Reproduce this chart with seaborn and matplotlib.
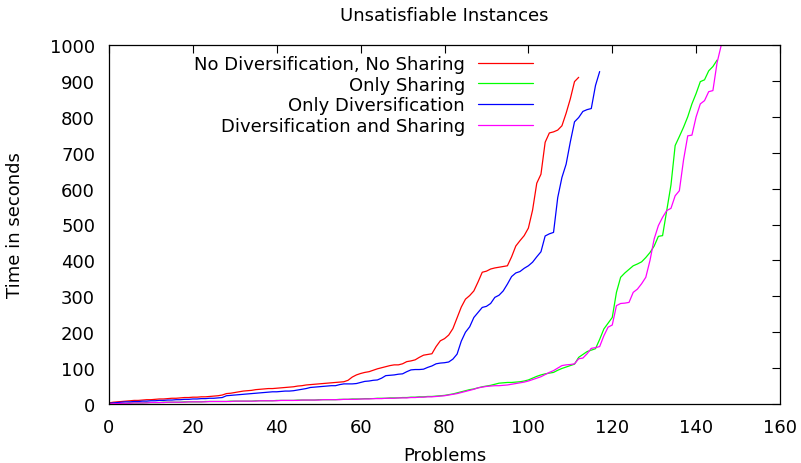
import pandas as pd
import matplotlib
matplotlib.use("Agg")
import matplotlib.pyplot as plt
import seaborn as sns

# runtimes (seconds) per solved problem, sorted
no_div_no_share = [3, 5, 6, 7, 8, 9, 10, 10, 11, 12, 12, 13, 14, 14, 15, 16, 16, 17, 18, 18,
                   19, 19, 20, 20, 21, 22, 23, 25, 29, 30, 32, 34, 36, 37, 38, 40, 41, 42, 43, 43,
                   44, 45, 46, 47, 48, 50, 51, 53, 54, 55, 56, 57, 58, 59, 60, 61, 62, 66, 75, 81,
                   85, 88, 90, 94, 98, 101, 104, 107, 109, 109, 112, 118, 120, 123, 130, 136, 138, 140, 160, 176,
                   182, 192, 210, 240, 270, 292, 302, 315, 340, 367, 370, 376, 379, 381, 383, 385, 410, 440, 455, 469,
                   490, 540, 615, 640, 729, 755, 758, 763, 775, 810, 850, 898, 910]

only_sharing = [1, 1, 2, 2, 2, 3, 3, 3, 3, 4, 4, 4, 4, 5, 5, 5, 5, 5, 6, 6,
                6, 6, 6, 7, 7, 7, 7, 7, 7, 8, 8, 8, 8, 8, 8, 9, 9, 9, 9, 9,
                10, 10, 10, 10, 10, 11, 11, 11, 11, 11, 12, 12, 12, 12, 12, 13, 13, 13, 14, 14,
                14, 15, 15, 15, 16, 16, 16, 17, 17, 17, 18, 18, 19, 19, 20, 20, 21, 21, 22, 23,
                24, 26, 28, 31, 34, 37, 40, 42, 45, 48, 50, 52, 55, 58, 59, 60, 60, 61, 62, 64,
                67, 72, 77, 81, 84, 86, 88, 94, 99, 103, 107, 111, 130, 138, 146, 150, 154, 180, 209, 225,
                241, 311, 353, 365, 375, 385, 390, 396, 408, 422, 440, 467, 469, 540, 610, 720, 745, 771, 800, 836,
                865, 898, 903, 928, 940, 958]

only_div = [2, 3, 4, 5, 6, 6, 7, 7, 8, 8, 9, 9, 10, 10, 11, 11, 12, 12, 13, 13,
            14, 14, 15, 15, 16, 16, 17, 18, 23, 24, 25, 26, 27, 28, 29, 30, 31, 32, 33, 34,
            34, 35, 36, 36, 37, 39, 41, 43, 46, 47, 48, 49, 50, 51, 51, 54, 56, 56, 56, 57,
            60, 63, 64, 66, 67, 72, 79, 80, 81, 83, 84, 90, 95, 96, 96, 97, 102, 106, 112, 114,
            115, 117, 125, 139, 175, 200, 215, 241, 255, 269, 272, 280, 297, 303, 315, 334, 355, 365, 369, 378,
            385, 395, 410, 424, 468, 474, 478, 575, 631, 668, 730, 786, 798, 815, 820, 823, 887, 926]

div_and_share = [0, 1, 1, 2, 2, 2, 3, 3, 3, 3, 4, 4, 4, 4, 5, 5, 5, 5, 5, 6,
                 6, 6, 6, 6, 7, 7, 7, 7, 7, 7, 8, 8, 8, 8, 8, 8, 9, 9, 9, 9,
                 9, 10, 10, 10, 10, 10, 11, 11, 11, 11, 11, 12, 12, 12, 12, 12, 13, 13, 13, 13,
                 14, 14, 14, 15, 15, 15, 16, 16, 16, 17, 17, 17, 18, 18, 19, 19, 20, 20, 21, 22,
                 23, 25, 27, 29, 32, 35, 38, 41, 45, 47, 49, 50, 51, 51, 52, 53, 55, 57, 59, 61,
                 64, 68, 72, 76, 82, 88, 93, 100, 107, 109, 110, 112, 126, 128, 140, 155, 157, 160, 190, 214,
                 220, 274, 280, 281, 283, 311, 320, 335, 353, 400, 460, 497, 520, 539, 545, 580, 594, 680, 747, 749,
                 800, 836, 845, 870, 873, 951, 1000]

series_names = ["No Diversification, No Sharing", "Only Sharing",
                "Only Diversification", "Diversification and Sharing"]
series_values = [no_div_no_share, only_sharing, only_div, div_and_share]
series_colors = ["#ff0000", "#00ff00", "#0000ff", "#ff00ff"]

frames = []
for name, vals in zip(series_names, series_values):
    frames.append(pd.DataFrame({"problem": range(len(vals)), "time": vals, "config": name}))
plot_df = pd.concat(frames, ignore_index=True)

sns.set_style("white")
plt.rcParams["font.family"] = ["DejaVu Sans"]
plt.rcParams["text.color"] = "black"
plt.rcParams["axes.labelcolor"] = "black"

fs = 13

fig = plt.figure(figsize=(8.01, 4.64), dpi=100)
ax = fig.add_axes([109 / 801, 1 - 405 / 464, (780 - 109) / 801, (405 - 46) / 464])

sns.lineplot(data=plot_df, x="problem", y="time", hue="config", hue_order=series_names,
             palette=series_colors, estimator=None, linewidth=0.9, ax=ax)

ax.set_xlim(0, 160)
ax.set_ylim(0, 1000)
ax.set_xticks(range(0, 161, 20))
ax.set_yticks(range(0, 1001, 100))
ax.tick_params(direction="in", length=6, width=0.8, top=True, right=True,
               labelsize=fs, colors="black", pad=10)
for sp in ax.spines.values():
    sp.set_color("black")
    sp.set_linewidth(0.9)

ax.set_title("Unsatisfiable Instances", fontsize=fs, pad=18, color="black")
ax.set_xlabel("Problems", fontsize=fs, labelpad=7.5)
ax.set_ylabel("Time in seconds", fontsize=fs, labelpad=19)

ax.legend(loc="upper right", bbox_to_anchor=(533 / 801, 1 - 56 / 464),
          bbox_transform=fig.transFigure, frameon=False, fontsize=fs,
          markerfirst=False, handlelength=3.05, handletextpad=0.72,
          borderpad=0, borderaxespad=0, labelspacing=0.15)

fig.savefig("out.png", dpi=100)
